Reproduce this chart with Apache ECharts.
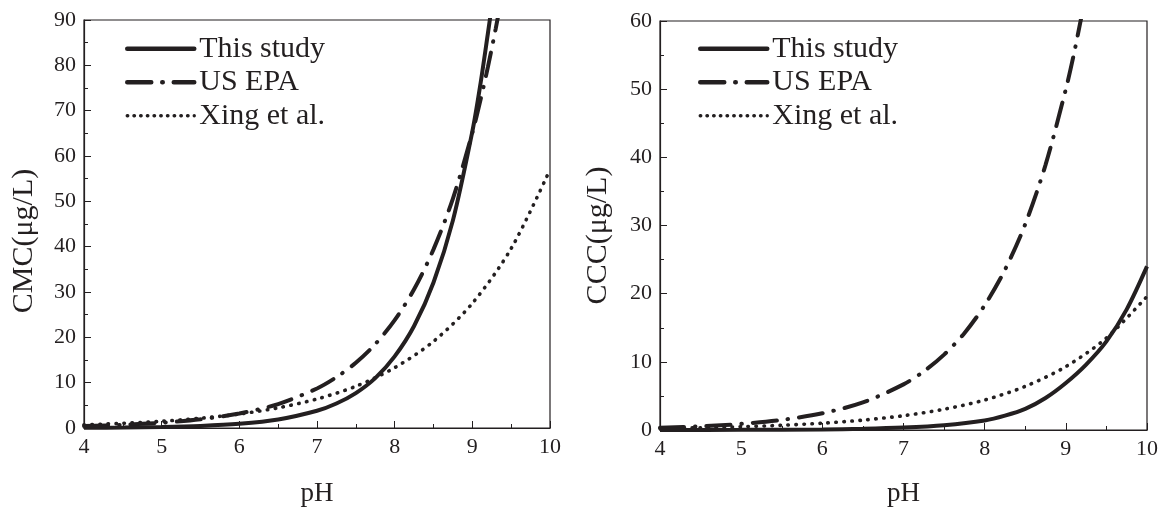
<!DOCTYPE html>
<html>
<head>
<meta charset="utf-8">
<script src="https://cdn.jsdelivr.net/npm/echarts@6/dist/echarts.min.js"></script>
<style>
html,body{margin:0;padding:0;background:#fff;}
#c{width:1158px;height:508px;}
</style>
</head>
<body>
<div id="c"></div>
<script>
// ---- Data ----
var seriesNames = ['This study', 'US EPA', 'Xing et al.'];
var xTicks = [4, 5, 6, 7, 8, 9, 10];

// Left panel: CMC (μg/L)
var cmcThisPH   = [4, 4.5, 5, 5.5, 6, 6.5, 7, 7.25, 7.5, 7.75, 8, 8.25, 8.5, 8.75, 9, 9.1, 9.2, 9.25];
var cmcThisVal  = [0.05, 0.11, 0.22, 0.45, 0.92, 1.87, 3.8, 5.4, 7.7, 11.0, 15.8, 22.5, 32.1, 45.8, 65.4, 75.4, 87.0, 93.0];
var cmcEpaPH    = [4, 4.5, 5, 5.5, 6, 6.5, 7, 7.25, 7.5, 7.75, 8, 8.25, 8.5, 8.75, 9, 9.1, 9.2, 9.3, 9.35];
var cmcEpaVal   = [0.43, 0.71, 1.17, 1.93, 3.19, 5.28, 8.72, 11.2, 14.4, 18.5, 23.8, 30.6, 39.4, 50.6, 65.1, 72.0, 79.6, 88.0, 92.5];
var cmcXingPH   = [4, 4.5, 5, 5.5, 6, 6.5, 7, 7.5, 8, 8.5, 9, 9.5, 10];
var cmcXingVal  = [0.72, 1.03, 1.49, 2.15, 3.09, 4.45, 6.4, 9.2, 13.3, 19.1, 27.5, 39.6, 57.0];

// Right panel: CCC (μg/L)
var cccThisPH   = [4, 5, 6, 6.5, 7, 7.5, 8, 8.25, 8.5, 8.75, 9, 9.25, 9.5, 9.75, 10];
var cccThisVal  = [0.01, 0.02, 0.08, 0.17, 0.35, 0.7, 1.4, 2.1, 3.1, 4.7, 6.9, 9.6, 13.0, 17.7, 24.0];
var cccEpaPH    = [4, 4.5, 5, 5.5, 6, 6.5, 7, 7.25, 7.5, 7.75, 8, 8.25, 8.5, 8.75, 9, 9.1, 9.2];
var cccEpaVal   = [0.33, 0.54, 0.90, 1.48, 2.45, 4.05, 6.69, 8.6, 11.06, 14.2, 18.3, 23.5, 30.2, 38.9, 50.0, 55.2, 61.1];
var cccXingPH   = [4, 4.5, 5, 5.5, 6, 6.5, 7, 7.5, 8, 8.5, 9, 9.5, 10];
var cccXingVal  = [0.23, 0.33, 0.48, 0.69, 1.0, 1.45, 2.1, 3.05, 4.4, 6.4, 9.3, 13.5, 19.6];

// ---- Styles ----
var INK = '#231f20';
var FONT = '"Liberation Serif", "Times New Roman", serif';
function pairs(xs, ys) { return xs.map(function (x, i) { return [x, ys[i]]; }); }

var lineStyles = [
  { color: INK, width: 4, type: 'solid', cap: 'butt' },
  { color: INK, width: 4, type: [24, 11, 0.5, 11], cap: 'round' },
  { color: INK, width: 3.6, type: [0.5, 7.5], cap: 'round' }
];
var legendLineStyles = [
  { color: INK, width: 4.5, type: 'solid', cap: 'round', opacity: 1 },
  { color: INK, width: 4.5, type: [24, 11, 0.5, 11], cap: 'round', opacity: 1, dashOffset: 0 },
  { color: INK, width: 3.4, type: [0.5, 6.2], cap: 'round', opacity: 1 }
];

function xAxisFor(gi, gap) {
  return {
    type: 'value', gridIndex: gi, min: 4, max: 10, interval: 1,
    name: 'pH', nameLocation: 'middle', nameGap: gap,
    nameTextStyle: { fontFamily: FONT, fontSize: 27, color: INK },
    axisLine: { show: true, onZero: false, lineStyle: { color: INK, width: 1.2 } },
    axisTick: { show: true, inside: true, length: 7, lineStyle: { color: INK, width: 1 } },
    minorTick: { show: true, splitNumber: 2, length: 4, lineStyle: { color: INK, width: 1 } },
    splitLine: { show: false }, minorSplitLine: { show: false },
    axisLabel: { fontFamily: FONT, fontSize: 22, color: INK, margin: 8 }
  };
}
function yAxisFor(gi, max, interval, name, gap, shiftPad) {
  return {
    type: 'value', gridIndex: gi, min: 0, max: max, interval: interval,
    name: name, nameLocation: 'middle', nameGap: gap, nameRotate: 90,
    nameTextStyle: { fontFamily: FONT, fontSize: 30, color: INK, padding: [0, shiftPad, 0, 0] },
    axisLine: { show: true, onZero: false, lineStyle: { color: INK, width: 1.2 } },
    axisTick: { show: true, inside: true, length: 7, lineStyle: { color: INK, width: 1 } },
    minorTick: { show: true, splitNumber: 2, length: 4, lineStyle: { color: INK, width: 1 } },
    splitLine: { show: false }, minorSplitLine: { show: false },
    axisLabel: { fontFamily: FONT, fontSize: 22, color: INK, margin: 8 }
  };
}
function lineSeries(name, idx, gi, data) {
  return {
    type: 'line', name: name, xAxisIndex: gi, yAxisIndex: gi,
    data: data, smooth: 0.3, symbol: 'none', showSymbol: false, clip: true,
    lineStyle: lineStyles[idx], itemStyle: { color: INK }, z: 3 - idx,
    animation: false
  };
}
function legendFor(left, top) {
  return {
    orient: 'vertical', left: left, top: top, itemWidth: 67, itemHeight: 14, itemGap: 0,
    padding: 0,
    itemStyle: { opacity: 0, borderWidth: 0 },
    textStyle: { fontFamily: FONT, fontSize: 30, color: INK, lineHeight: 33.5 },
    data: seriesNames.map(function (n, i) {
      return { name: n, lineStyle: legendLineStyles[i], itemStyle: { opacity: 0 } };
    }),
    selectedMode: false
  };
}

var chart = echarts.init(document.getElementById('c'), null, { renderer: 'canvas' });
chart.setOption({
  animation: false,
  backgroundColor: '#fff',
  grid: [
    { left: 84, right: 608, top: 20, bottom: 80, containLabel: false, outerBoundsMode: 'none',
      show: true, borderColor: INK, borderWidth: 1.2, backgroundColor: 'transparent' },
    { left: 660, right: 11, top: 21, bottom: 78, containLabel: false, outerBoundsMode: 'none',
      show: true, borderColor: INK, borderWidth: 1.2, backgroundColor: 'transparent' }
  ],
  legend: [ legendFor(125, 32), legendFor(698, 32) ],
  xAxis: [ xAxisFor(0, 52), xAxisFor(1, 50) ],
  yAxis: [ yAxisFor(0, 90, 10, 'CMC(μg/L)', 45, 34), yAxisFor(1, 60, 10, 'CCC(μg/L)', 47, 20) ],
  series: [
    lineSeries(seriesNames[0], 0, 0, pairs(cmcThisPH, cmcThisVal)),
    lineSeries(seriesNames[1], 1, 0, pairs(cmcEpaPH, cmcEpaVal)),
    lineSeries(seriesNames[2], 2, 0, pairs(cmcXingPH, cmcXingVal)),
    lineSeries(seriesNames[0], 0, 1, pairs(cccThisPH, cccThisVal)),
    lineSeries(seriesNames[1], 1, 1, pairs(cccEpaPH, cccEpaVal)),
    lineSeries(seriesNames[2], 2, 1, pairs(cccXingPH, cccXingVal))
  ]
});
</script>
</body>
</html>
